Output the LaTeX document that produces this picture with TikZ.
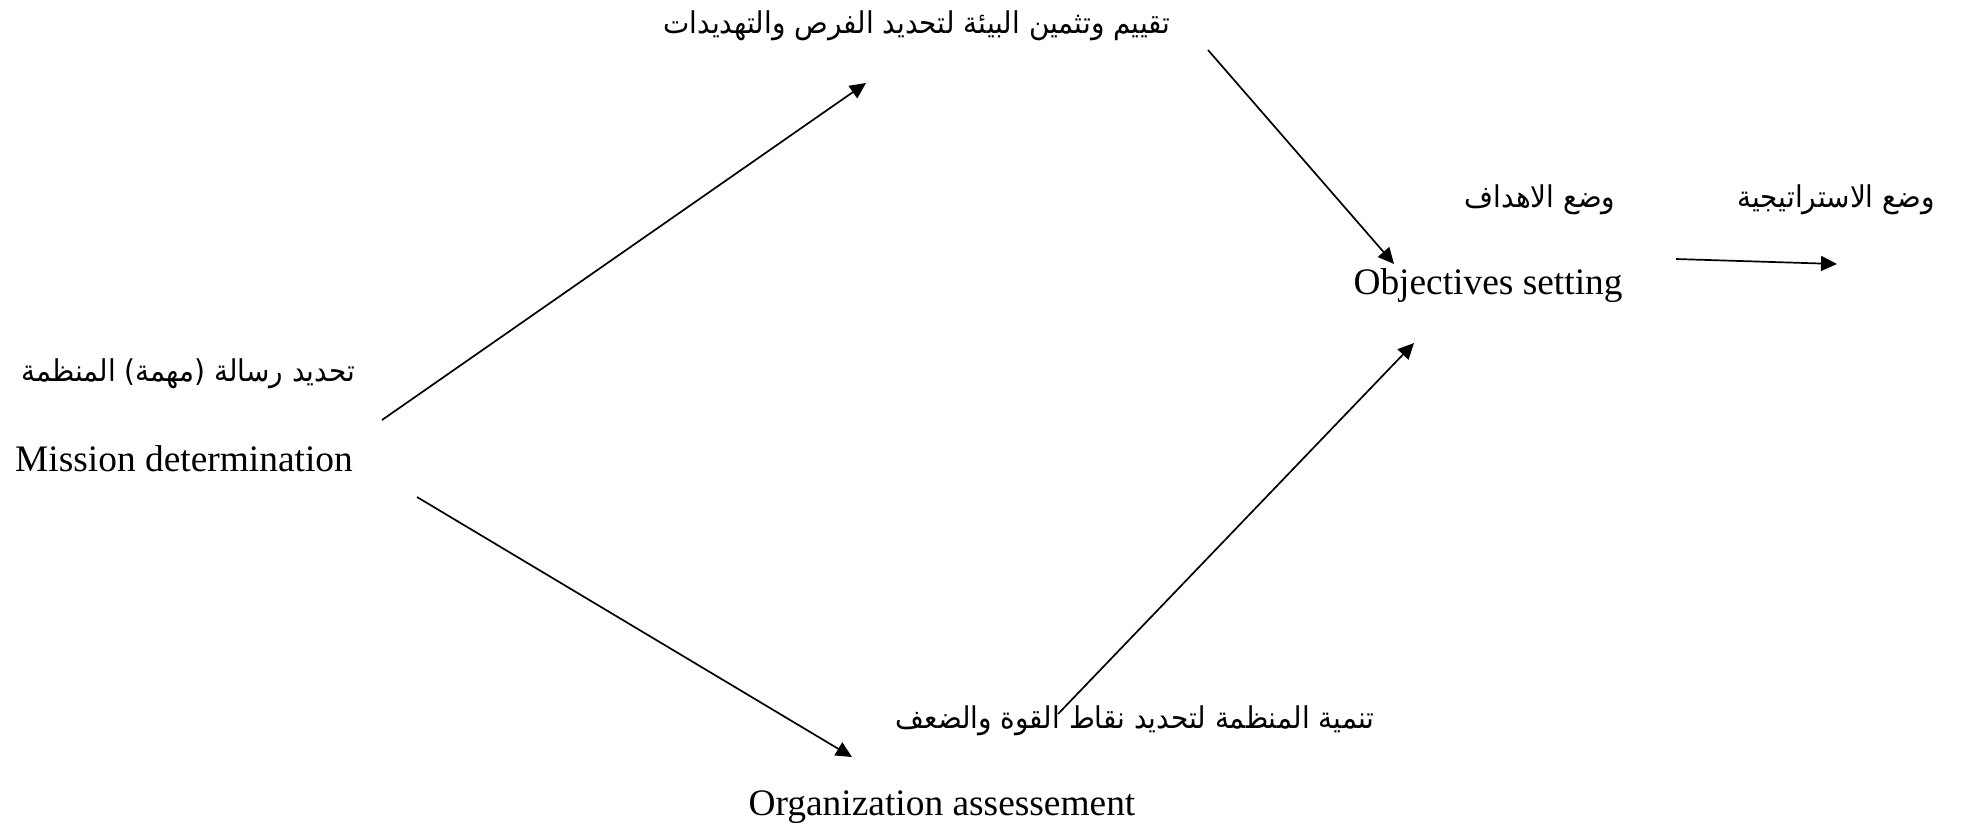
\documentclass[tikz,border=0pt]{standalone}
\usepackage{fontspec}
\setmainfont{Liberation Serif}
\newfontfamily\arabicfont[Script=Arabic,FakeStretch=0.93]{DejaVu Sans}
\TeXXeTstate=1
\usetikzlibrary{arrows.meta}
\begin{document}
\begin{tikzpicture}[x=0.5pt,y=-0.5pt,
  en/.style={font=\fontsize{18.7}{22}\selectfont, inner sep=0pt},
  ar/.style={font=\arabicfont\fontsize{15}{20}\selectfont, inner sep=0pt},
  flow/.style={-{Triangle[length=8pt,width=7.5pt]}, line width=0.85pt}]
\useasboundingbox (0,0) rectangle (1964,827);

% labels
\node[ar] (env) at (917,26) {\beginR تقييم وتثمين البيئة لتحديد الفرص والتهديدات\endR};
\node[ar] (objAr) at (1540,200) {\beginR وضع الاهداف\endR};
\node[ar] (strAr) at (1836,200) {\beginR وضع الاستراتيجية\endR};
\node[en] (obj) at (1488,286) {Objectives setting};
\node[ar] (misAr) at (188,374) {\beginR تحديد رسالة (مهمة) المنظمة\endR};
\node[en] (mis) at (184,459) {Mission determination};
\node[ar] (orgAr) at (1135,721) {\beginR تنمية المنظمة لتحديد نقاط القوة والضعف\endR};
\node[en] (org) at (942,807) {Organization assessement};

% connector end points
\coordinate (m1) at (382,420);
\coordinate (e1) at (866,83);
\coordinate (e2) at (1208,50);
\coordinate (o1) at (1394,264);
\coordinate (o2) at (1676,259);
\coordinate (s1) at (1837,264);
\coordinate (g1) at (1058,714);
\coordinate (o3) at (1414,343);
\coordinate (m2) at (417,497);
\coordinate (g2) at (852,757);

% connectors
\draw[flow] (m1) -- (e1);
\draw[flow] (e2) -- (o1);
\draw[flow] (o2) -- (s1);
\draw[flow] (g1) -- (o3);
\draw[flow] (m2) -- (g2);
\end{tikzpicture}
\end{document}
